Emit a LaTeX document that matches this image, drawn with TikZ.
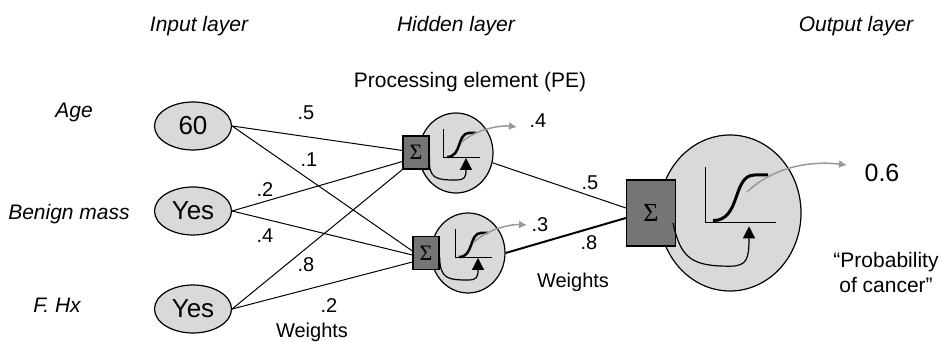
\documentclass[tikz,border=0pt]{standalone}
\usepackage{fontspec}
\setmainfont{Liberation Sans}
\newfontfamily\sigmafont{Liberation Serif}
\usetikzlibrary{shapes.geometric,arrows.meta}

\tikzset{
  txt/.style={anchor=base,inner sep=0pt,font=\fontsize{21}{25}\selectfont},
  layer/.style={anchor=base,inner sep=0pt,font=\fontsize{21}{25}\selectfont\itshape},
  wt/.style={anchor=base,inner sep=0pt,font=\fontsize{20}{24}\selectfont},
  innode/.style={ellipse,draw,line width=1.2pt,fill=gray!30,minimum width=77pt,
    minimum height=48pt,inner sep=0pt,font=\fontsize{26}{30}\selectfont},
  pe/.style={ellipse,draw,line width=1.2pt,fill=gray!30,minimum width=74pt,minimum height=80pt},
  outpe/.style={pe,minimum width=142pt,minimum height=156pt},
  sumbox/.style={rectangle,draw,line width=1.2pt,fill=black!54,minimum width=26pt,
    minimum height=33pt,inner sep=0pt,font=\sigmafont\fontsize{22}{24}\selectfont},
  outbox/.style={sumbox,minimum width=49pt,minimum height=66pt,
    font=\sigmafont\fontsize{26}{28}\selectfont},
  wire/.style={line width=1pt},
  axisline/.style={line width=1pt},
  sigline/.style={line width=2.5pt},
  feed/.style={line width=1.2pt,-{Triangle[length=12pt,width=12pt]}},
  valarrow/.style={line width=1.5pt,black!40,-{Latex[length=8pt,width=8pt]}}
}

% axes and sigmoid inside a processing element
\newcommand{\sigmoidplot}{%
  \draw[axisline] (-13,24) -- (-13,-5) -- (24,-5);
  \draw[sigline] (-9,-4) .. controls (6,-4) and (1,20) .. (13,20) -- (20,20);
}

\begin{document}
\begin{tikzpicture}[x=1pt,y=1pt]
  \path[fill=white] (0,0) rectangle (941,342);
  \useasboundingbox (0,0) rectangle (941,342);

  % titles
  \node[layer] (tin)  at (199,310) {Input layer};
  \node[layer] (thid) at (456,310) {Hidden layer};
  \node[layer] (tout) at (856,310) {Output layer};
  \node[txt]   (tpe)  at (470,254) {Processing element (PE)};

  % input variables
  \node[layer] (lage) at (74,224) {Age};
  \node[layer] (lben) at (69,122) {Benign mass};
  \node[layer] (lfhx) at (57,29)  {F. Hx};

  \node[innode] (in1) at (193,216) {60};
  \node[innode] (in2) at (193,131) {Yes};
  \node[innode] (in3) at (193,33)  {Yes};

  % hidden and output elements
  \node[pe]     (h1) at (456,189) {};
  \node[sumbox] (s1) at (416,189.5) {Σ};
  \node[pe]     (h2) at (468,89) {};
  \node[sumbox] (s2) at (426,89) {Σ};
  \node[outpe]  (o)  at (730,129) {};
  \node[outbox] (so) at (651,129) {Σ};

  % connections
  \draw[wire] (in1.east) -- ([yshift=2pt]s1.west);
  \draw[wire] (in1.east) -- ([yshift=2pt]s2.west);
  \draw[wire] (in2.east) -- ([yshift=-9pt]s1.west);
  \draw[wire] (in2.east) -- ([yshift=-2pt]s2.west);
  \draw[wire] (in3.east) -- (s1.south west);
  \draw[wire] (in3.east) -- ([yshift=-9pt]s2.west);
  \draw[wire] (h1.-15) -- ([yshift=5pt]so.west);
  \draw[wire,line width=2pt] (h2.east) -- ([yshift=-5pt]so.west);

  % weights
  \node[wt] (w11) at (306,222) {.5};
  \node[wt] (w12) at (309,175) {.1};
  \node[wt] (w21) at (265,145) {.2};
  \node[wt] (w22) at (265,99)  {.4};
  \node[wt] (w31) at (306,70)  {.8};
  \node[wt] (w32) at (329,29)  {.2};
  \node[wt] (wl1) at (312,4)   {Weights};
  \node[wt] (w1o) at (590,152) {.5};
  \node[wt] (w2o) at (589,92)  {.8};
  \node[wt] (wl2) at (573,54)  {Weights};

  % activation inside each element
  \coordinate (f1) at ([yshift=-4pt]s1.east);
  \coordinate (f2) at ([yshift=-4pt]s2.east);
  \coordinate (fo) at ([xshift=-3pt,yshift=-10pt]so.east);
  \begin{scope}[shift={(h1.center)}]
    \sigmoidplot
    \draw[feed] (f1) .. controls (-28,-26) and (-20,-27) .. (0,-27)
      .. controls (9,-27) and (10,-24) .. (10,-5);
  \end{scope}
  \begin{scope}[shift={(h2.center)}]
    \sigmoidplot
    \draw[feed] (f2) .. controls (-28,-26) and (-20,-27) .. (0,-27)
      .. controls (9,-27) and (10,-24) .. (10,-5);
  \end{scope}
  \begin{scope}[shift={(o.center)},scale=1.9,sigline/.append style={line width=3pt}]
    \sigmoidplot
    \draw[feed] (fo) .. controls (-26,-24) and (-20,-28) .. (0,-28)
      .. controls (9,-28) and (10,-24) .. (10,-7);
  \end{scope}

  % outputs
  \node[wt] (v1) at (538,214) {.4};
  \node[wt] (v2) at (540,110) {.3};
  \node[txt,font=\fontsize{25}{30}\selectfont] (vo) at (882,160) {0.6};
  \node[txt,align=center,anchor=center] (prob) at (886,70) {“Probability\\of cancer”};

  \coordinate (k1) at (462,200);
  \coordinate (t1) at (517,215);
  \coordinate (k2) at (474,100);
  \coordinate (t2) at (527,117);
  \coordinate (k3) at (747,150);
  \coordinate (t3) at (847,177);
  \draw[valarrow] (k1) .. controls (476,213) and (501,217) .. (t1);
  \draw[valarrow] (k2) .. controls (488,113) and (511,118) .. (t2);
  \draw[valarrow] (k3) .. controls (770,172) and (805,182) .. (t3);
\end{tikzpicture}
\end{document}
